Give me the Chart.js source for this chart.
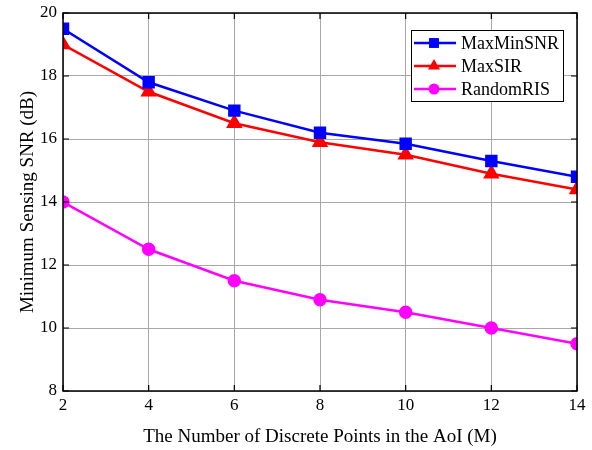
<!DOCTYPE html>
<html>
<head>
<meta charset="utf-8">
<script src="https://cdn.jsdelivr.net/npm/chart.js@4.4.0/dist/chart.umd.min.js"></script>
<style>
  html, body { margin:0; padding:0; background:#fff; }
  #wrap { width:592px; height:450px; position:relative; }
</style>
</head>
<body>
<div id="wrap"><canvas id="chart" width="592" height="450"></canvas></div>
<script>
// data
const pointsM = [2, 4, 6, 8, 10, 12, 14];
const maxMinSNR = [19.5, 17.8, 16.9, 16.2, 15.85, 15.3, 14.8];
const maxSIR = [19.0, 17.5, 16.5, 15.9, 15.5, 14.9, 14.4];
const randomRIS = [14.0, 12.5, 11.5, 10.9, 10.5, 10.0, 9.5];
const seriesNames = ["MaxMinSNR", "MaxSIR", "RandomRIS"];

const FONT = "'Liberation Serif', 'Times New Roman', serif";

function toXY(vals) {
  return vals.map((v, i) => ({ x: pointsM[i], y: v }));
}

// box + inward tick marks on all four sides
const boxPlugin = {
  id: "box",
  afterDraw(chart) {
    const { ctx, chartArea: a, scales } = chart;
    ctx.save();
    ctx.strokeStyle = "#000";
    ctx.lineWidth = 1.5;
    ctx.strokeRect(a.left, a.top, a.right - a.left, a.bottom - a.top);
    ctx.lineWidth = 1.2;
    const t = 6;
    scales.x.ticks.forEach(tk => {
      const px = scales.x.getPixelForValue(tk.value);
      ctx.beginPath();
      ctx.moveTo(px, a.bottom); ctx.lineTo(px, a.bottom - t);
      ctx.moveTo(px, a.top); ctx.lineTo(px, a.top + t);
      ctx.stroke();
    });
    scales.y.ticks.forEach(tk => {
      const py = scales.y.getPixelForValue(tk.value);
      ctx.beginPath();
      ctx.moveTo(a.left, py); ctx.lineTo(a.left + t, py);
      ctx.moveTo(a.right, py); ctx.lineTo(a.right - t, py);
      ctx.stroke();
    });
    ctx.restore();
  }
};

// legend box in the upper right, like the matlab one
const legendPlugin = {
  id: "boxLegend",
  afterDraw(chart) {
    const { ctx } = chart;
    const x0 = 411, y0 = 30, w = 152, h = 71;
    ctx.save();
    ctx.fillStyle = "#fff";
    ctx.fillRect(x0, y0, w, h);
    ctx.strokeStyle = "#000";
    ctx.lineWidth = 1;
    ctx.strokeRect(x0 + 0.5, y0 + 0.5, w, h);
    chart.data.datasets.forEach((ds, i) => {
      const cy = y0 + 13 + i * 23;
      ctx.strokeStyle = ds.borderColor;
      ctx.lineWidth = 2.5;
      ctx.beginPath();
      ctx.moveTo(x0 + 3, cy); ctx.lineTo(x0 + 45, cy);
      ctx.stroke();
      ctx.fillStyle = ds.backgroundColor;
      Chart.helpers.drawPoint(ctx, { pointStyle: ds.pointStyle, radius: ds.pointRadius, rotation: 0, borderWidth: 0 }, x0 + 23, cy);
      ctx.fillStyle = "#000";
      ctx.font = "18px " + FONT;
      ctx.textBaseline = "middle";
      ctx.fillText(ds.label, x0 + 50, cy + 1);
    });
    ctx.restore();
  }
};

const ctx = document.getElementById("chart").getContext("2d");
new Chart(ctx, {
  type: "line",
  data: {
    datasets: [
      { label: seriesNames[0], data: toXY(maxMinSNR), borderColor: "#0000ff", backgroundColor: "#0000ff",
        pointStyle: "rect", pointRadius: 7, borderWidth: 2.5, clip: 0 },
      { label: seriesNames[1], data: toXY(maxSIR), borderColor: "#ff0000", backgroundColor: "#ff0000",
        pointStyle: "triangle", pointRadius: 7, borderWidth: 2.5, clip: 0 },
      { label: seriesNames[2], data: toXY(randomRIS), borderColor: "#ff00ff", backgroundColor: "#ff00ff",
        pointStyle: "circle", pointRadius: 5.5, borderWidth: 2.5, clip: 0 }
    ]
  },
  options: {
    responsive: false,
    animation: false,
    layout: { padding: { left: 0, right: 15, top: 13, bottom: 0 } },
    plugins: { legend: { display: false }, tooltip: { enabled: false } },
    elements: { line: { tension: 0 }, point: { borderWidth: 0 } },
    scales: {
      x: {
        type: "linear", min: 2, max: 14,
        ticks: { stepSize: 2, color: "#000", font: { family: FONT, size: 17 }, padding: 4 },
        grid: { color: "#a8a8a8", lineWidth: 1, drawTicks: false },
        border: { display: false },
        title: { display: true, text: "The Number of Discrete Points in the AoI (M)", color: "#000",
                 font: { family: FONT, size: 19 }, padding: { top: 4, bottom: 2 } },
        afterFit(s) { s.height = 59; s.paddingLeft = 0; s.paddingRight = 0; }
      },
      y: {
        min: 8, max: 20,
        ticks: { stepSize: 2, color: "#000", font: { family: FONT, size: 17 }, padding: 6 },
        grid: { color: "#a8a8a8", lineWidth: 1, drawTicks: false },
        border: { display: false },
        title: { display: true, text: "Minimum Sensing SNR (dB)", color: "#000",
                 font: { family: FONT, size: 19 }, padding: { top: 17, bottom: 0 } },
        afterFit(s) { s.width = 63; s.paddingTop = 0; s.paddingBottom = 0; }
      }
    }
  },
  plugins: [boxPlugin, legendPlugin]
});
</script>
</body>
</html>
